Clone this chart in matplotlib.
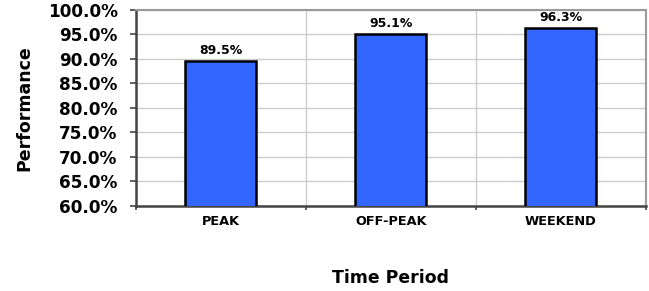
import matplotlib.pyplot as plt
import numpy as np

# data
periods = ['PEAK', 'OFF-PEAK', 'WEEKEND']
performance = [89.5, 95.1, 96.3]
y_ticks = [60, 65, 70, 75, 80, 85, 90, 95, 100]

plt.rcParams['font.family'] = ['DejaVu Sans']
plt.rcParams['font.weight'] = 'bold'

fig = plt.figure(figsize=(6.49, 2.91), dpi=100)
ax = fig.add_axes([0.209, 0.292, 0.786, 0.675])

x = np.arange(len(periods))
bars = ax.bar(x, performance, width=0.42, color='#3366FF', edgecolor='black',
              linewidth=1.8, zorder=3)

# value labels above bars
for xi, v in zip(x, performance):
    ax.annotate('%.1f%%' % v, (xi, v), xytext=(0, 2.7), textcoords='offset points',
                ha='center', va='bottom', fontsize=9, fontweight='bold', zorder=4)

ax.set_xlim(-0.5, len(periods) - 0.5)
ax.set_ylim(60, 100)
ax.set_yticks(y_ticks)
ax.set_yticklabels(['%.1f%%' % t for t in y_ticks], fontsize=12.2, fontweight='bold')
ax.set_xticks(x)
ax.set_xticklabels(periods, fontsize=9.3, fontweight='bold')
ax.tick_params(axis='x', which='major', length=0, pad=6.8)
ax.set_xticks(np.arange(len(periods) + 1) - 0.5, minor=True)
ax.tick_params(axis='x', which='minor', length=3.2, width=1.2, color='#444444')
ax.tick_params(axis='y', length=4.3, width=1.2, color='#444444', pad=8.6)

# grid
ax.grid(axis='y', color='#cccccc', linewidth=1, zorder=0)
ax.grid(axis='x', which='minor', color='#cccccc', linewidth=1, zorder=0)

for side in ['left', 'bottom']:
    ax.spines[side].set_color('#444444')
    ax.spines[side].set_linewidth(1.8)
for side in ['top', 'right']:
    ax.spines[side].set_color('#9a9a9a')
    ax.spines[side].set_linewidth(1.5)

ax.set_ylabel('Performance', fontsize=12.5, fontweight='bold', labelpad=10)
fig.text(0.601, 0.045, 'Time Period', ha='center', va='center', fontsize=12.4,
         fontweight='bold')

fig.savefig('out.png', dpi=100)
